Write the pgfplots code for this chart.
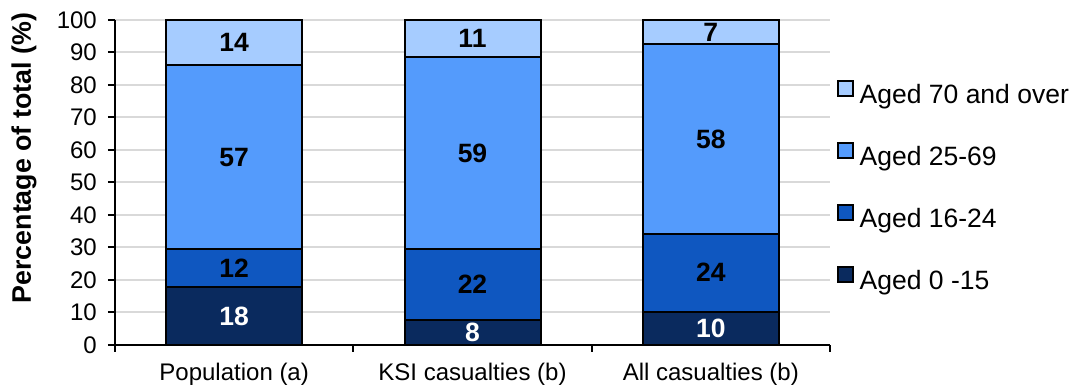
\documentclass[border=0pt]{standalone}
\usepackage{pgfplots}
\pgfplotsset{compat=1.18}
\usepackage{pgfplotstable}
\usepackage{fontspec}
\setmainfont{Liberation Sans}

\definecolor{agea}{HTML}{0A2A5E}
\definecolor{ageb}{HTML}{0F57C0}
\definecolor{agec}{HTML}{549BFC}
\definecolor{aged}{HTML}{A6CCFF}
\definecolor{gridgrey}{HTML}{D9D9D9}

% Share of each age group (%); x: 0 = population, 1 = KSI casualties, 2 = all casualties
\pgfplotstableread{
x v
0 17.9
1 7.7
2 10.3
}\agedA
\pgfplotstableread{
x v
0 11.6
1 21.7
2 23.9
}\agedB
\pgfplotstableread{
x v
0 56.6
1 59.3
2 58.4
}\agedC
\pgfplotstableread{
x v
0 13.9
1 11.3
2 7.4
}\agedD

\begin{document}
\begin{tikzpicture}
\useasboundingbox (-115pt,-40pt) rectangle (956pt,345pt);
\begin{axis}[
  at={(0pt,0pt)}, anchor=south west,
  scale only axis,
  width=715pt, height=325pt,
  xmin=-0.5, xmax=2.5, ymin=0, ymax=100,
  ybar stacked, bar width=136pt,
  xtick={0,1,2},
  xticklabels={Population (a), KSI casualties (b), All casualties (b)},
  minor xtick={-0.5,0.5,1.5,2.5},
  ytick={0,10,...,100},
  axis x line*=bottom, axis y line*=left,
  axis line style={-, line width=2pt, black},
  tick align=outside,
  major tick length=7pt, minor tick length=7pt,
  major x tick style={draw=none},
  minor x tick style={black, line width=2pt},
  major y tick style={black, line width=2pt},
  ymajorgrids,
  y grid style={gridgrey, line width=2pt},
  /pgf/number format/assume math mode=true,
  ticklabel style={font=\fontsize{24}{28}\selectfont},
  xticklabel style={anchor=base, yshift=-29pt},
  yticklabel style={anchor=east, inner sep=0pt, xshift=-11pt},
  ylabel={\bfseries Percentage of total (\%)},
  ylabel style={font=\fontsize{26.8}{31}\selectfont, at={(axis description cs:-0.1175,0.575)}, rotate=0, anchor=base},
  point meta=explicit,
  nodes near coords={\pgfmathprintnumber[fixed,precision=0]{\pgfplotspointmeta}},
  % labels sit in the middle of each segment
  every node near coord/.append style={font=\bfseries\fontsize{26.5}{31}\selectfont, anchor=center},
  legend style={at={(axis description cs:1.0098,0.483)}, anchor=west, draw=none, fill=none,
    font=\fontsize{26.5}{31}\selectfont, inner sep=0pt, row sep=32.7pt, column sep=6pt,
    nodes={inner sep=0pt, text height=18pt, text depth=6pt}},
  legend cell align=left,
  reverse legend,
  legend image code/.code={\draw[#1, line width=1.5pt] (0pt,1.5pt) rectangle (15pt,16.5pt);},
]
\addplot[fill=agea, draw=black, line width=2pt, every node near coord/.append style={text=white}] table[x=x, y=v, meta=v] {\agedA};
\addlegendentry{Aged 0 -15}
\addplot[fill=ageb, draw=black, line width=2pt, every node near coord/.append style={text=black}] table[x=x, y=v, meta=v] {\agedB};
\addlegendentry{Aged 16-24}
\addplot[fill=agec, draw=black, line width=2pt, every node near coord/.append style={text=black}] table[x=x, y=v, meta=v] {\agedC};
\addlegendentry{Aged 25-69}
\addplot[fill=aged, draw=black, line width=2pt, every node near coord/.append style={text=black}] table[x=x, y=v, meta=v] {\agedD};
\addlegendentry{Aged 70 and over}
\end{axis}
\end{tikzpicture}
\end{document}
